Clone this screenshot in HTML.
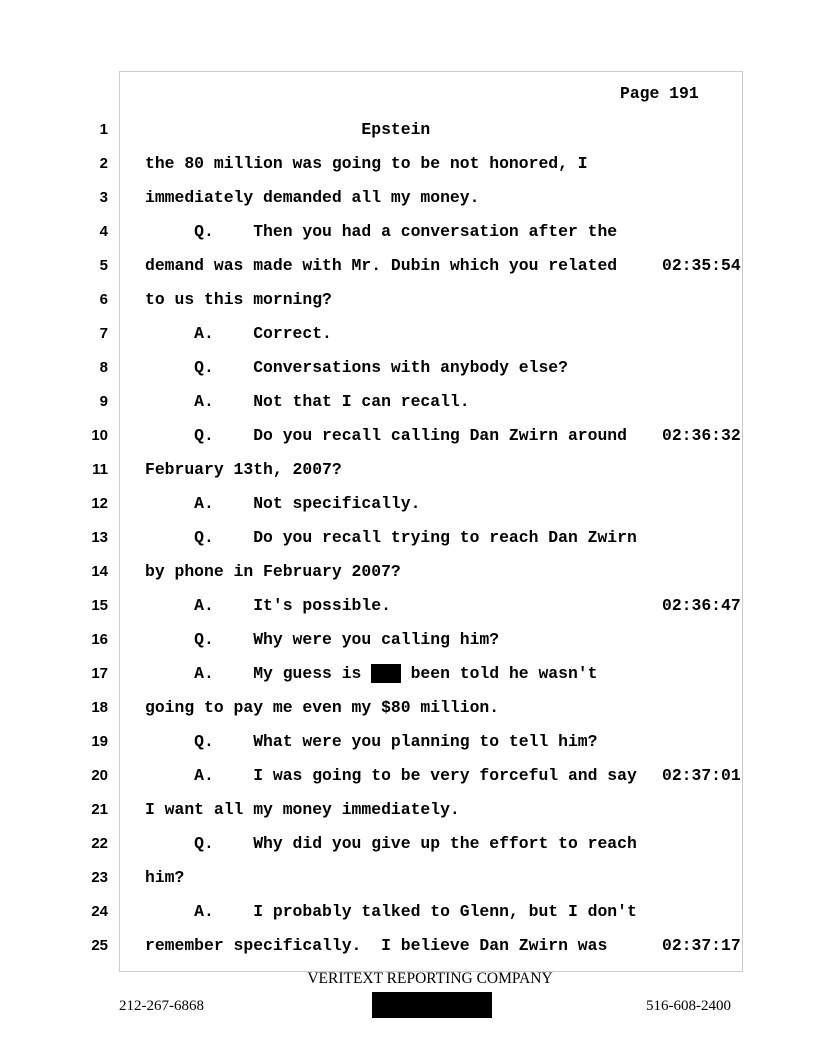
<!DOCTYPE html>
<html><head><style>
body{margin:0;width:816px;height:1056px;background:#fff;position:relative;overflow:hidden}
#box{position:absolute;left:119px;top:71px;width:624px;height:901px;border:1px solid #ccc;box-sizing:border-box}
.ln{position:absolute;left:78px;width:30px;text-align:right;font:bold 15px "Liberation Sans",sans-serif;line-height:20px}
.tx{position:absolute;left:145px;font:bold 16.4px "Liberation Mono",monospace;white-space:pre;line-height:20px}
.ts{position:absolute;left:662px;font:bold 16.4px "Liberation Mono",monospace;line-height:20px}
.ft{position:absolute;font:16px "Liberation Serif",serif}
.r{background:#000;color:#000}
</style></head><body>
<div id="box"></div>
<div class="tx" style="left:620px;top:84px">Page 191</div>
<div class="ft" style="left:300px;top:970px;width:260px;text-align:center;font-size:15.5px">VERITEXT REPORTING COMPANY</div>
<div style="position:absolute;left:372px;top:992px;width:120px;height:26px;background:#000"></div>
<div class="ft" style="left:119px;top:998px;font-size:15px">212-267-6868</div>
<div class="ft" style="left:646px;top:998px;font-size:15px">516-608-2400</div>
<div class="ln" style="top:120px">1</div><div class="tx" style="top:120px">                      Epstein</div>
<div class="ln" style="top:154px">2</div><div class="tx" style="top:154px">the 80 million was going to be not honored, I</div>
<div class="ln" style="top:188px">3</div><div class="tx" style="top:188px">immediately demanded all my money.</div>
<div class="ln" style="top:222px">4</div><div class="tx" style="top:222px">     Q.    Then you had a conversation after the</div>
<div class="ln" style="top:256px">5</div><div class="tx" style="top:256px">demand was made with Mr. Dubin which you related</div><div class="ts" style="top:256px">02:35:54</div>
<div class="ln" style="top:290px">6</div><div class="tx" style="top:290px">to us this morning?</div>
<div class="ln" style="top:324px">7</div><div class="tx" style="top:324px">     A.    Correct.</div>
<div class="ln" style="top:358px">8</div><div class="tx" style="top:358px">     Q.    Conversations with anybody else?</div>
<div class="ln" style="top:392px">9</div><div class="tx" style="top:392px">     A.    Not that I can recall.</div>
<div class="ln" style="top:426px">10</div><div class="tx" style="top:426px">     Q.    Do you recall calling Dan Zwirn around</div><div class="ts" style="top:426px">02:36:32</div>
<div class="ln" style="top:460px">11</div><div class="tx" style="top:460px">February 13th, 2007?</div>
<div class="ln" style="top:494px">12</div><div class="tx" style="top:494px">     A.    Not specifically.</div>
<div class="ln" style="top:528px">13</div><div class="tx" style="top:528px">     Q.    Do you recall trying to reach Dan Zwirn</div>
<div class="ln" style="top:562px">14</div><div class="tx" style="top:562px">by phone in February 2007?</div>
<div class="ln" style="top:596px">15</div><div class="tx" style="top:596px">     A.    It's possible.</div><div class="ts" style="top:596px">02:36:47</div>
<div class="ln" style="top:630px">16</div><div class="tx" style="top:630px">     Q.    Why were you calling him?</div>
<div class="ln" style="top:664px">17</div><div class="tx" style="top:664px">     A.    My guess is <span class="r">I'd</span> been told he wasn't</div>
<div class="ln" style="top:698px">18</div><div class="tx" style="top:698px">going to pay me even my $80 million.</div>
<div class="ln" style="top:732px">19</div><div class="tx" style="top:732px">     Q.    What were you planning to tell him?</div>
<div class="ln" style="top:766px">20</div><div class="tx" style="top:766px">     A.    I was going to be very forceful and say</div><div class="ts" style="top:766px">02:37:01</div>
<div class="ln" style="top:800px">21</div><div class="tx" style="top:800px">I want all my money immediately.</div>
<div class="ln" style="top:834px">22</div><div class="tx" style="top:834px">     Q.    Why did you give up the effort to reach</div>
<div class="ln" style="top:868px">23</div><div class="tx" style="top:868px">him?</div>
<div class="ln" style="top:902px">24</div><div class="tx" style="top:902px">     A.    I probably talked to Glenn, but I don't</div>
<div class="ln" style="top:936px">25</div><div class="tx" style="top:936px">remember specifically.  I believe Dan Zwirn was</div><div class="ts" style="top:936px">02:37:17</div>
</body></html>
